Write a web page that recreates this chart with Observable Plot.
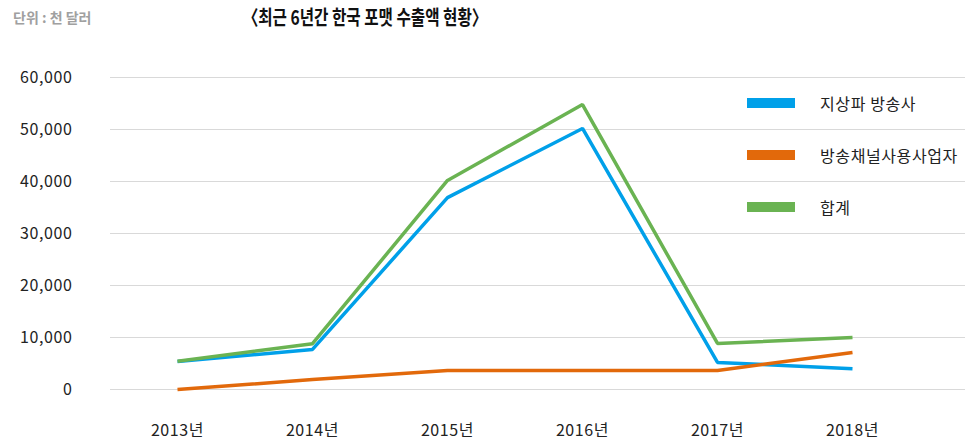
<!DOCTYPE html>
<html>
<head>
<meta charset="utf-8">
<script src="https://cdn.jsdelivr.net/npm/d3@7"></script>
<script src="https://cdn.jsdelivr.net/npm/@observablehq/plot@0.6"></script>
<style>
  html, body { margin: 0; padding: 0; background: #fff; }
  body { font-family: "Noto Sans CJK KR", "Noto Sans", sans-serif; }
  #wrap { position: relative; width: 979px; height: 443px; }
  #unit { position: absolute; left: 13px; top: 6px; font-size: 14px; font-weight: bold; color: #a0a0a0; line-height: 22px; }
  #title { position: absolute; left: 365px; top: 3px; transform: translateX(-50%) scaleX(0.78); font-size: 20px; font-weight: bold; color: #111; line-height: 28px; white-space: nowrap; }
  .leg { position: absolute; left: 747px; height: 22px; display: flex; align-items: center; font-size: 16px; letter-spacing: 0.6px; color: #222; white-space: nowrap; }
  .leg .sw { width: 48px; height: 10px; margin-right: 25px; }
  svg text { letter-spacing: 0.6px; }
</style>
</head>
<body>
<div id="wrap">
  <div id="chart"></div>
  <div id="unit">단위 : 천 달러</div>
  <div id="title">〈최근 6년간 한국 포맷 수출액 현황〉</div>
  <div id="legend"></div>
</div>
<script>
const years = ["2013년", "2014년", "2015년", "2016년", "2017년", "2018년"];
const seriesNames = ["지상파 방송사", "방송채널사용사업자", "합계"];
const terrestrial = [5400, 7700, 36900, 50200, 5200, 4000];
const channel = [0, 1900, 3650, 3650, 3650, 7100];
const total = [5450, 8800, 40200, 54800, 8850, 10000];
const yTicks = [0, 10000, 20000, 30000, 40000, 50000, 60000];
const colors = ["#00a0e9", "#e2690b", "#6ab352"];

const seriesValues = [terrestrial, channel, total];
const data = seriesNames.flatMap((name, i) =>
  years.map((year, j) => ({ series: name, year, value: seriesValues[i][j] }))
);

const chart = Plot.plot({
  width: 979,
  height: 443,
  marginTop: 77,
  marginBottom: 54,
  marginLeft: 110,
  marginRight: 14,
  style: { fontFamily: '"Noto Sans CJK KR", "Noto Sans", sans-serif', fontSize: "16px", color: "#222", background: "transparent" },
  x: { type: "point", domain: years, range: [177, 852], padding: 0, axis: null, label: null },
  y: { domain: [0, 60000], axis: null, label: null },
  color: { domain: seriesNames, range: colors },
  marks: [
    Plot.ruleY(yTicks, { stroke: "#d9d9d9", strokeWidth: 1 }),
    Plot.axisY(yTicks, { tickSize: 0, tickPadding: 38, tickFormat: d3.format(","), fill: "#222", fontSize: 16, label: null }),
    Plot.axisX(years, { tickSize: 0, tickPadding: 35, fill: "#222", fontSize: 16, label: null }),
    Plot.line(data, { x: "year", y: "value", z: "series", stroke: "series", strokeWidth: 3.5, strokeLinejoin: "miter", strokeLinecap: "butt" })
  ]
});
document.getElementById("chart").appendChild(chart);

const legendTops = [92, 144, 196];
const legend = document.getElementById("legend");
seriesNames.forEach((name, i) => {
  const item = document.createElement("div");
  item.className = "leg";
  item.style.top = legendTops[i] + "px";
  const sw = document.createElement("span");
  sw.className = "sw";
  sw.style.background = colors[i];
  const label = document.createElement("span");
  label.textContent = name;
  item.appendChild(sw);
  item.appendChild(label);
  legend.appendChild(item);
});
</script>
</body>
</html>
